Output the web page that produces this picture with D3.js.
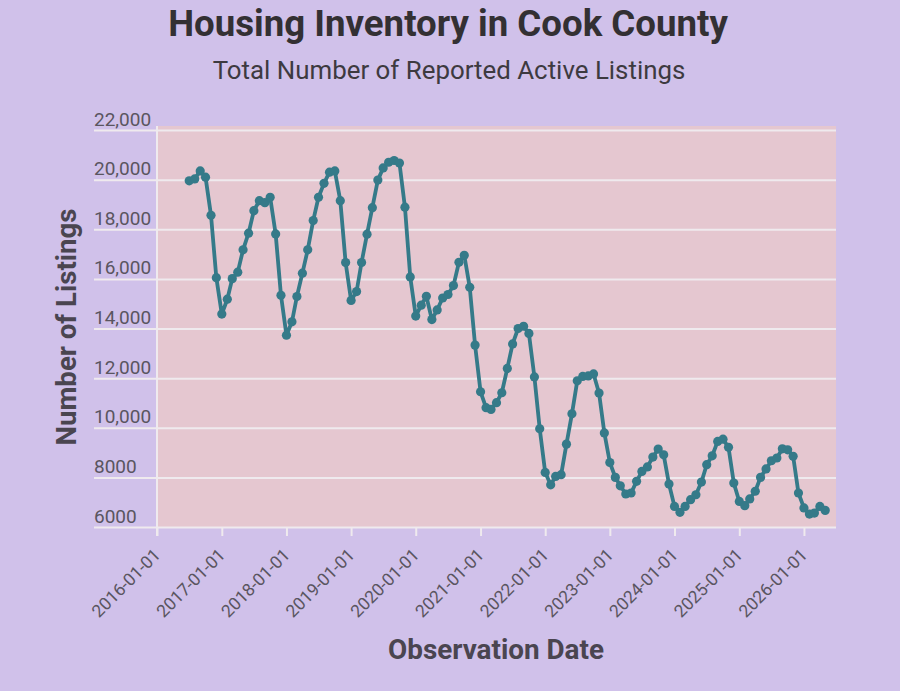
<!DOCTYPE html>
<html>
<head>
<meta charset="utf-8">
<script src="https://cdn.jsdelivr.net/npm/d3@7"></script>
<style>
  body { margin: 0; background: #d0c1ea; }
  text { font-family: Roboto, "Noto Sans", sans-serif; }
</style>
</head>
<body>
<div id="root"></div>
<script>
// monthly observations, first one is 2016-07-01, last one 2026-05-01
const firstMonth = "2016-07-01";
const lastMonth = "2026-05-01";
const listings = [
  19950, 20030, 20350, 20100, 18560, 16050,
  14580, 15180, 16010, 16270, 17170, 17840, 18750, 19150, 19070, 19290, 17810, 15340,
  13730, 14270, 15290, 16230, 17170, 18350, 19290, 19850, 20300, 20350, 19150, 16660,
  15130, 15490, 16660, 17800, 18870, 19980, 20470, 20700, 20770, 20670, 18890, 16080,
  14500, 14940, 15300, 14360, 14750, 15230, 15370, 15730, 16670, 16950, 15660, 13330,
  11450, 10810, 10740, 11010, 11410, 12390, 13380, 14000, 14090, 13800, 12050, 9960,
  8200, 7700, 8040, 8110, 9340, 10560, 11890, 12070, 12090, 12170, 11400, 9790,
  8600, 8000, 7660, 7330, 7370, 7840, 8240, 8420, 8820, 9140, 8910, 7730,
  6830, 6590, 6830, 7100, 7300, 7810, 8510, 8870, 9450, 9540, 9210, 7770,
  7030, 6860, 7130, 7440, 8000, 8340, 8670, 8780, 9150, 9110, 8850, 7370,
  6770, 6520, 6560, 6830, 6670,
];
const yTicks = [6000, 8000, 10000, 12000, 14000, 16000, 18000, 20000, 22000];
const xDomain = ["2016-01-01", "2026-07-01"];

const width = 900;
const height = 691;
const plot = { left: 157, right: 836, top: 130, bottom: 527 };

const parse = d3.timeParse("%Y-%m-%d");
const months = d3.timeMonth.range(parse(firstMonth), d3.timeMonth.offset(parse(lastMonth), 1));
const data = months.map((date, i) => ({ date, value: listings[i] }));

const svg = d3.select("#root").append("svg")
  .attr("width", width)
  .attr("height", height);

const x = d3.scaleUtc()
  .domain(xDomain.map(parse))
  .range([plot.left, plot.right]);

const y = d3.scaleLinear()
  .domain([6000, 22000])
  .range([plot.bottom, plot.top]);

// sets font-size so the text is as wide as in the picture
function fitWidth(sel, target) {
  const size = parseFloat(sel.attr("font-size"));
  const len = sel.node().getComputedTextLength();
  sel.attr("font-size", size * target / len);
}

svg.append("rect")
  .attr("x", plot.left)
  .attr("y", plot.top - 4)
  .attr("width", plot.right - plot.left)
  .attr("height", plot.bottom - plot.top + 4)
  .attr("fill", "#e5c7d0");

// y grid + labels
const yAxis = svg.append("g")
  .attr("transform", "translate(94, 0)")
  .call(d3.axisRight(y)
    .tickValues(yTicks)
    .tickSize(plot.right - 94)
    .tickFormat(d => d < 10000 ? d : d3.format(",")(d)));

yAxis.select(".domain").remove();
yAxis.selectAll(".tick line")
  .attr("stroke", "#efeaee")
  .attr("stroke-width", 2);
yAxis.selectAll(".tick text")
  .attr("x", 0)
  .attr("dy", -5)
  .attr("text-anchor", "start")
  .attr("font-size", 19)
  .attr("fill", "#5a5560");

// vertical axis line
svg.append("line")
  .attr("x1", plot.left)
  .attr("x2", plot.left)
  .attr("y1", plot.top - 4)
  .attr("y2", plot.bottom + 9)
  .attr("stroke", "#efeaee")
  .attr("stroke-width", 2);

const xAxis = svg.append("g")
  .attr("transform", `translate(0, ${plot.bottom})`)
  .call(d3.axisBottom(x)
    .ticks(d3.utcYear.every(1))
    .tickSize(9)
    .tickFormat(d3.utcFormat("%Y-%m-%d")));

xAxis.select(".domain").remove();
xAxis.selectAll(".tick line")
  .attr("stroke", "#efeaee")
  .attr("stroke-width", 2);
xAxis.selectAll(".tick text")
  .attr("y", 0)
  .attr("dy", 0)
  .attr("text-anchor", "end")
  .attr("transform", "translate(4, 29) rotate(-45)")
  .attr("font-size", 17.5)
  .attr("fill", "#5a5560");

const line = d3.line()
  .x(d => x(d.date))
  .y(d => y(d.value));

svg.append("path")
  .datum(data)
  .attr("fill", "none")
  .attr("stroke", "#357a89")
  .attr("stroke-width", 3.8)
  .attr("stroke-linejoin", "round")
  .attr("d", line);

svg.append("g")
  .selectAll("circle")
  .data(data)
  .join("circle")
  .attr("cx", d => x(d.date))
  .attr("cy", d => y(d.value))
  .attr("r", 4.6)
  .attr("fill", "#357a89");

const title = svg.append("text")
  .attr("x", 448)
  .attr("y", 36)
  .attr("text-anchor", "middle")
  .attr("font-size", 34)
  .attr("font-weight", 700)
  .attr("fill", "#333033")
  .text("Housing Inventory in Cook County");
fitWidth(title, 560);

const subtitle = svg.append("text")
  .attr("x", 449)
  .attr("y", 79)
  .attr("text-anchor", "middle")
  .attr("font-size", 22)
  .attr("fill", "#3d3a40")
  .text("Total Number of Reported Active Listings");
fitWidth(subtitle, 473);

const yTitle = svg.append("text")
  .attr("transform", "translate(76, 327) rotate(-90)")
  .attr("text-anchor", "middle")
  .attr("font-size", 26)
  .attr("font-weight", 700)
  .attr("fill", "#4a4550")
  .text("Number of Listings");
fitWidth(yTitle, 237);

const xTitle = svg.append("text")
  .attr("x", 496)
  .attr("y", 659)
  .attr("text-anchor", "middle")
  .attr("font-size", 26)
  .attr("font-weight", 700)
  .attr("fill", "#4a4550")
  .text("Observation Date");
fitWidth(xTitle, 216);
</script>
</body>
</html>
